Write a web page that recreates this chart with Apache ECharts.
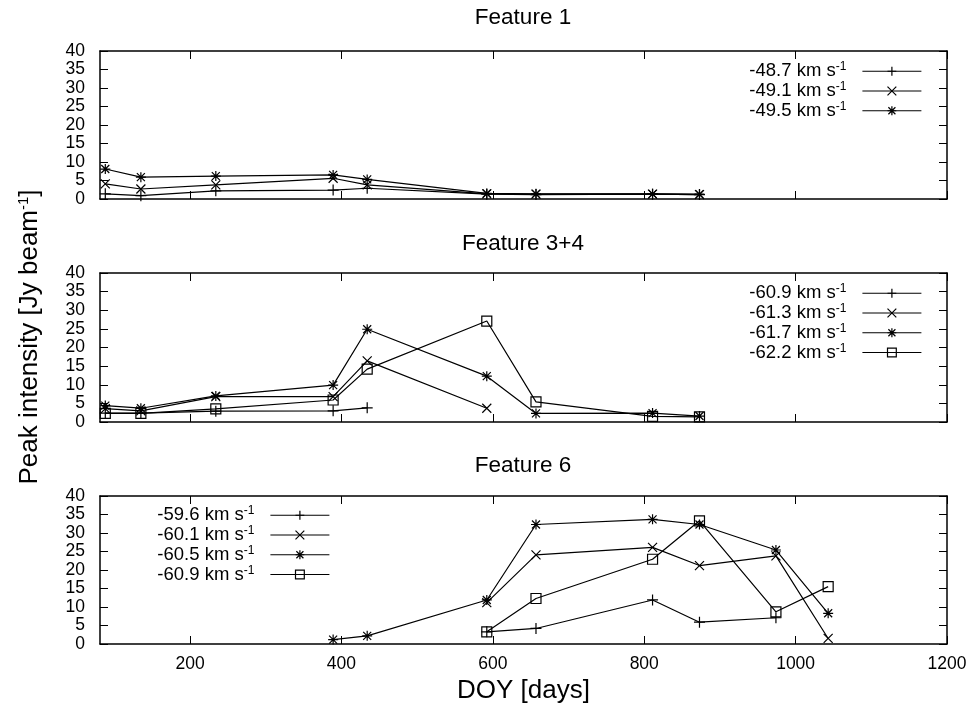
<!DOCTYPE html>
<html>
<head>
<meta charset="utf-8">
<title>Peak intensity</title>
<script src="https://cdn.jsdelivr.net/npm/echarts@6/dist/echarts.min.js"></script>
<style>
html, body { margin: 0; padding: 0; background: #fff; }
#main { width: 976px; height: 713px; }
</style>
</head>
<body>
<div id="main"></div>
<script>
// observation epochs (DOY)
var doy = [88, 135, 234, 389, 434, 592, 657, 811, 873, 974, 1043];
var xTicks = [200, 400, 600, 800, 1000, 1200];

// Feature 1
var f1_487 = [1.4, 0.9, 2.2, 2.4, 2.9, 1.3, 1.2, 1.3, 1.2, null, null];
var f1_491 = [4.1, 2.7, 3.8, 5.6, 3.8, 1.4, 1.3, 1.3, 1.2, null, null];
var f1_495 = [8.1, 5.9, 6.2, 6.5, 5.3, 1.5, 1.4, 1.4, 1.3, null, null];

// Feature 3+4
var f2_609 = [2.4, 2.4, 2.9, 3.0, 3.8, null, null, null, null, null, null];
var f2_613 = [3.6, 3.0, 6.8, 6.8, 16.4, 3.7, null, null, null, null, null];
var f2_617 = [4.4, 3.7, 7.0, 9.9, 24.9, 12.3, 2.3, 2.4, 1.6, null, null];
var f2_622 = [2.3, 2.3, 3.5, 5.9, 14.2, 27.1, 5.4, 1.5, 1.4, null, null];

// Feature 6
var f3_596 = [null, null, null, null, null, 3.3, 4.2, 11.9, 5.9, 7.1, null];
var f3_601 = [null, null, null, null, null, 11.2, 24.1, 26.1, 21.2, 23.8, 1.5];
var f3_605 = [null, null, null, 1.2, 2.2, 11.9, 32.3, 33.7, 32.3, 25.4, 8.3];
var f3_609 = [null, null, null, null, null, 3.3, 12.3, 22.9, 33.3, 8.7, 15.5];

var titles = ['Feature 1', 'Feature 3+4', 'Feature 6'];

var FONT = '"Liberation Sans", Arial, sans-serif';

// gnuplot point types
var PLUS = 'path://M5 0L5 10M0 5L10 5';
var CROSS = 'path://M0 0L10 10M10 0L0 10';
var STAR = 'path://M5 0L5 10M0 5L10 5M1 1L9 9M9 1L1 9';
var BOX = 'path://M0 0L10 0L10 10L0 10Z';

var labelOf = {
    a1: '-48.7 km s', a2: '-49.1 km s', a3: '-49.5 km s',
    b1: '-60.9 km s', b2: '-61.3 km s', b3: '-61.7 km s', b4: '-62.2 km s',
    c1: '-59.6 km s', c2: '-60.1 km s', c3: '-60.5 km s', c4: '-60.9 km s'
};

function pairs(vals) {
    var out = [];
    for (var i = 0; i < doy.length; i++) {
        if (vals[i] != null) out.push([doy[i], vals[i]]);
    }
    return out;
}

function ser(name, gi, vals, sym, size) {
    return {
        name: name,
        type: 'line',
        xAxisIndex: gi * 2,
        yAxisIndex: gi * 2,
        data: pairs(vals),
        symbol: sym,
        symbolSize: size,
        showSymbol: true,
        lineStyle: { color: '#000', width: 1.2 },
        itemStyle: { color: 'none', borderColor: '#000', borderWidth: 1.2 },
        emphasis: { disabled: true }
    };
}

var grids = [
    { left: 100, width: 847, top: 51, height: 148 },
    { left: 100, width: 847, top: 273, height: 149 },
    { left: 100, width: 847, top: 496, height: 148 }
];

var xAxes = [], yAxes = [];
grids.forEach(function (g, gi) {
    ['bottom', 'top'].forEach(function (pos) {
        var lab = (gi === 2 && pos === 'bottom');
        xAxes.push({
            type: 'value', gridIndex: gi, position: pos, min: 81, max: 1200,
            axisLine: { show: true, onZero: false, lineStyle: { color: '#000', width: 1.5 } },
            axisTick: { show: true, inside: true, length: 8, customValues: xTicks,
                        lineStyle: { color: '#000', width: 1 } },
            axisLabel: { show: lab, customValues: xTicks, margin: 11, color: '#000',
                         fontSize: 17.5, fontFamily: FONT,
                         formatter: function (v) { return String(v); } },
            splitLine: { show: false },
            name: lab ? 'DOY [days]' : '',
            nameLocation: 'middle',
            nameGap: 34,
            nameTextStyle: { fontSize: 26, fontFamily: FONT, color: '#000' }
        });
    });
    ['left', 'right'].forEach(function (pos) {
        yAxes.push({
            type: 'value', gridIndex: gi, position: pos, min: 0, max: 40, interval: 5,
            axisLine: { show: true, lineStyle: { color: '#000', width: 1.5 } },
            axisTick: { show: true, inside: true, length: 8, lineStyle: { color: '#000', width: 1 } },
            axisLabel: { show: pos === 'left', margin: 15, color: '#000', fontSize: 17.5, fontFamily: FONT },
            splitLine: { show: false }
        });
    });
});

var rich = {
    t: { fontFamily: FONT, fontSize: 18.5, color: '#000', lineHeight: 20.5 },
    s: { fontFamily: FONT, fontSize: 12, color: '#000', verticalAlign: 'top', lineHeight: 12 }
};

function legend(names, pos) {
    return Object.assign({
        orient: 'vertical', align: 'right', padding: 0,
        itemWidth: 59, itemHeight: 11, itemGap: 0,
        selectedMode: false,
        data: names,
        lineStyle: { width: 1.2 },
        itemStyle: { borderWidth: 1.2 },
        formatter: function (n) { return '{t|' + labelOf[n] + '}{s|-1}'; },
        textStyle: { padding: [0, 11, 0, 0], rich: rich }
    }, pos);
}

var option = {
    animation: false,
    backgroundColor: '#fff',
    title: titles.map(function (t, i) {
        return {
            text: t, left: 523, top: [6, 232, 454][i], textAlign: 'center', padding: 0,
            textStyle: { fontSize: 22.5, fontWeight: 'normal', fontFamily: FONT, color: '#000' }
        };
    }),
    grid: grids,
    xAxis: xAxes,
    yAxis: yAxes,
    legend: [
        legend(['a1', 'a2', 'a3'], { right: 54, top: 61 }),
        legend(['b1', 'b2', 'b3', 'b4'], { right: 54, top: 283 }),
        legend(['c1', 'c2', 'c3', 'c4'], { right: 646, top: 505 })
    ],
    graphic: [{
        type: 'text',
        x: 30, y: 337,
        rotation: Math.PI / 2,
        style: {
            text: '{t|Peak intensity [Jy beam}{s|-1}{t|]}',
            align: 'center', verticalAlign: 'middle',
            rich: {
                t: { fontFamily: FONT, fontSize: 26, fill: '#000', lineHeight: 28 },
                s: { fontFamily: FONT, fontSize: 15, fill: '#000', verticalAlign: 'top', lineHeight: 15 }
            }
        }
    }],
    series: [
        ser('a1', 0, f1_487, PLUS, 11),
        ser('a2', 0, f1_491, CROSS, 9),
        ser('a3', 0, f1_495, STAR, 10),
        ser('b1', 1, f2_609, PLUS, 11),
        ser('b2', 1, f2_613, CROSS, 9),
        ser('b3', 1, f2_617, STAR, 10),
        ser('b4', 1, f2_622, BOX, 10),
        ser('c1', 2, f3_596, PLUS, 11),
        ser('c2', 2, f3_601, CROSS, 9),
        ser('c3', 2, f3_605, STAR, 10),
        ser('c4', 2, f3_609, BOX, 10)
    ]
};

var myChart = echarts.init(document.getElementById('main'));
myChart.setOption(option);
</script>
</body>
</html>
